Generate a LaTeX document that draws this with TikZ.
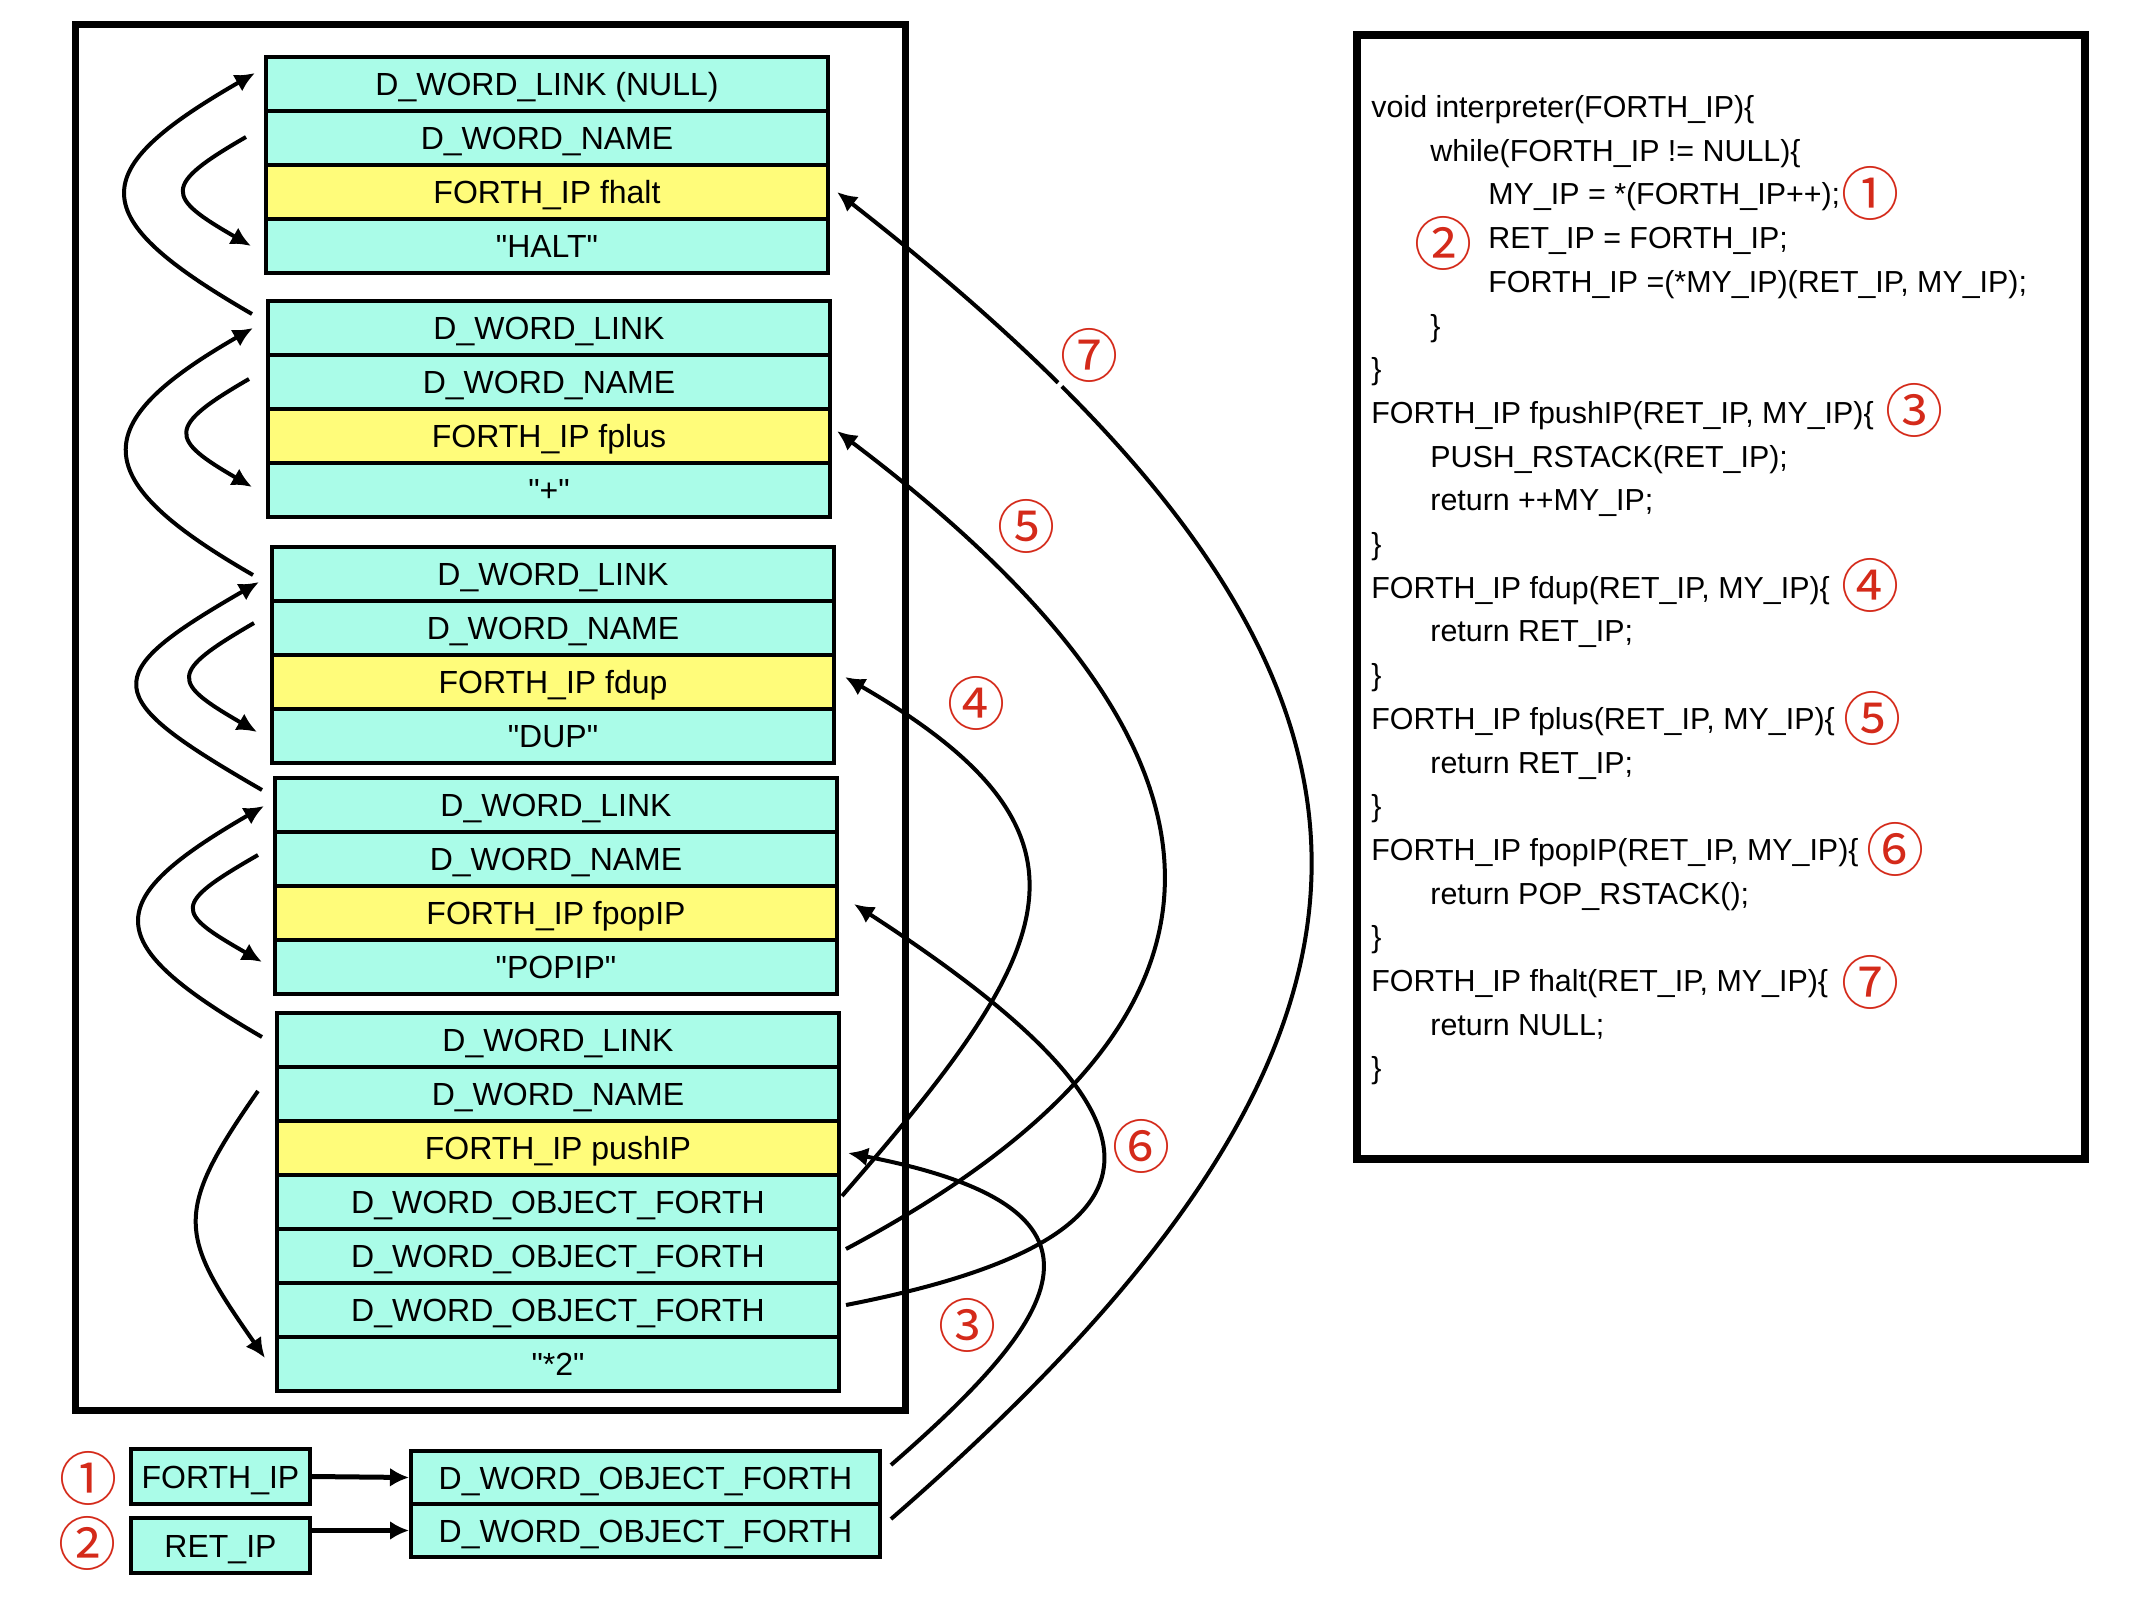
\documentclass[tikz,border=0pt]{standalone}
\usepackage{fontspec}
\setmainfont{Liberation Sans}
\newfontfamily\qfont{Liberation Sans}
\newfontfamily\cjkfont{Noto Sans CJK JP}
\usetikzlibrary{arrows.meta}
\definecolor{mint}{HTML}{AAFCE8}
\definecolor{yel}{HTML}{FFFC7A}
\definecolor{cred}{HTML}{D42A1A}
\newcommand{\dq}{{\qfont\symbol{34}}}
\begin{document}
\begin{tikzpicture}[x=0.5pt,y=-0.5pt,
  cell/.style={draw=black, line width=2pt, fill=mint, minimum width=281pt, minimum height=27pt, inner sep=0pt, text height=11.5pt, text depth=0pt, font=\fontsize{16}{19}\selectfont, anchor=north west},
  ycell/.style={cell, fill=yel},
  codeline/.style={anchor=west, inner sep=0pt, text height=11pt, text depth=0pt, font=\fontsize{15.2}{18}\selectfont},
  num/.style={text=cred, inner sep=0pt, font=\cjkfont\fontsize{29}{29}\selectfont},
  arr/.style={line width=2pt, -{Latex[length=10pt,width=9.5pt]}},
  barr/.style={line width=2.5pt, -{Latex[length=9.5pt,width=9.5pt]}}
]
\useasboundingbox (0,0) rectangle (2133,1600);
% frames
\draw[line width=3.5pt] (75,25) rectangle (905,1410);
\draw[line width=4pt] (1357,35) rectangle (2085,1159);
% word 1
\node[cell]  (b1a) at (264,55)  {D\_WORD\_LINK (NULL)};
\node[cell]  (b1b) at (264,109) {D\_WORD\_NAME};
\node[ycell] (b1c) at (264,163) {FORTH\_IP fhalt};
\node[cell]  (b1d) at (264,217) {\dq HALT\dq};
% word 2
\node[cell]  (b2a) at (266,299) {D\_WORD\_LINK};
\node[cell]  (b2b) at (266,353) {D\_WORD\_NAME};
\node[ycell] (b2c) at (266,407) {FORTH\_IP fplus};
\node[cell]  (b2d) at (266,461) {\dq+\dq};
% word 3
\node[cell]  (b3a) at (270,545) {D\_WORD\_LINK};
\node[cell]  (b3b) at (270,599) {D\_WORD\_NAME};
\node[ycell] (b3c) at (270,653) {FORTH\_IP fdup};
\node[cell]  (b3d) at (270,707) {\dq DUP\dq};
% word 4
\node[cell]  (b4a) at (273,776) {D\_WORD\_LINK};
\node[cell]  (b4b) at (273,830) {D\_WORD\_NAME};
\node[ycell] (b4c) at (273,884) {FORTH\_IP fpopIP};
\node[cell]  (b4d) at (273,938) {\dq POPIP\dq};
% word 5
\node[cell]  (b5a) at (275,1011) {D\_WORD\_LINK};
\node[cell]  (b5b) at (275,1065) {D\_WORD\_NAME};
\node[ycell] (b5c) at (275,1119) {FORTH\_IP pushIP};
\node[cell]  (b5d) at (275,1173) {D\_WORD\_OBJECT\_FORTH};
\node[cell]  (b5e) at (275,1227) {D\_WORD\_OBJECT\_FORTH};
\node[cell]  (b5f) at (275,1281) {D\_WORD\_OBJECT\_FORTH};
\node[cell]  (b5g) at (275,1335) {\dq*2\dq};
% bottom registers
\node[cell, minimum width=89.5pt, minimum height=27.5pt] (fip) at (129,1447) {FORTH\_IP};
\node[cell, minimum width=89.5pt, minimum height=27.5pt] (rip) at (129,1516) {RET\_IP};
\node[cell, minimum width=234.5pt, minimum height=26.5pt] (p1) at (409,1449) {D\_WORD\_OBJECT\_FORTH};
\node[cell, minimum width=234.5pt, minimum height=26.5pt] (p2) at (409,1502) {D\_WORD\_OBJECT\_FORTH};
\node[num] (n1l) at (88,1478) {①};
\node[num] (n2l) at (87,1543) {②};
\draw[barr] (fip.east) -- (p1.west);
\draw[barr] (rip.east |- p2.west) -- (p2.west);
% left link arrows
\coordinate (l1s) at (252,314); \coordinate (l1t) at (255,73);
\coordinate (l2s) at (253,575); \coordinate (l2t) at (253,328);
\coordinate (l3s) at (262,790); \coordinate (l3t) at (259,582);
\coordinate (l4s) at (262,1037); \coordinate (l4t) at (264,806);
\draw[arr] (l1s) .. controls (82,216) and (85,171) .. (l1t);
\draw[arr] (l2s) .. controls (86,479) and (86,424) .. (l2t);
\draw[arr] (l3s) .. controls (99,696) and (96,676) .. (l3t);
\draw[arr] (l4s) .. controls (98,942) and (100,901) .. (l4t);
% left name arrows
\coordinate (m1s) at (246,137); \coordinate (m1t) at (251,246);
\coordinate (m2s) at (249,379); \coordinate (m2t) at (252,487);
\coordinate (m3s) at (254,623); \coordinate (m3t) at (257,732);
\coordinate (m4s) at (258,855); \coordinate (m4t) at (262,962);
\coordinate (m5s) at (258,1091); \coordinate (m5t) at (265,1358);
\draw[arr] (m1s) .. controls (161,186) and (166,197) .. (m1t);
\draw[arr] (m2s) .. controls (166,427) and (169,439) .. (m2t);
\draw[arr] (m3s) .. controls (168,673) and (171,682) .. (m3t);
\draw[arr] (m4s) .. controls (171,905) and (175,912) .. (m4t);
\draw[arr] (m5s) .. controls (172,1214) and (179,1235) .. (m5t);
% right call arrows
\coordinate (r3s) at (891,1465); \coordinate (r3t) at (848,1153);
\coordinate (r4s) at (842,1196); \coordinate (r4t) at (845,677);
\coordinate (r5s) at (846,1249); \coordinate (r5t) at (837,431);
\coordinate (r6s) at (846,1305); \coordinate (r6t) at (854,904);
\coordinate (r7s) at (891,1519); \coordinate (r7t) at (837,192);
\draw[arr] (r3s) .. controls (1064.6,1314.1) and (1132.7,1208.3) .. (r3t);
\draw[arr] (r4s) .. controls (1052,954.5) and (1122,837) .. (r4t);
\draw[arr] (r5s) .. controls (1296,1009.6) and (1244,738) .. (r5t);
\draw[arr] (r6s) .. controls (1209,1234.4) and (1164.3,1105.5) .. (r6t);
\draw[arr] (r7s) .. controls (1472,1014) and (1444,666) .. (r7t);
\draw[white, line width=2.5pt] (1055,390) -- (1066,378);
\node[num] (c3) at (967,1325) {③};
\node[num] (c4) at (976,703) {④};
\node[num] (c5) at (1026,526) {⑤};
\node[num] (c6) at (1141,1146) {⑥};
\node[num] (c7) at (1089,355) {⑦};
% code
\node[codeline] (k0) at (1371,106.5) {void interpreter(FORTH\_IP)\{};
\node[codeline] (k1) at (1430,150.2) {while(FORTH\_IP != NULL)\{};
\node[codeline] (k2) at (1488,193.9) {MY\_IP = *(FORTH\_IP++);};
\node[codeline] (k3) at (1488,237.6) {RET\_IP = FORTH\_IP;};
\node[codeline] (k4) at (1488,281.3) {FORTH\_IP =(*MY\_IP)(RET\_IP, MY\_IP);};
\node[codeline] (k5) at (1430,325.0) {\}};
\node[codeline] (k6) at (1371,368.7) {\}};
\node[codeline] (k7) at (1371,412.4) {FORTH\_IP fpushIP(RET\_IP, MY\_IP)\{};
\node[codeline] (k8) at (1430,456.1) {PUSH\_RSTACK(RET\_IP);};
\node[codeline] (k9) at (1430,499.8) {return ++MY\_IP;};
\node[codeline] (k10) at (1371,543.5) {\}};
\node[codeline] (k11) at (1371,587.2) {FORTH\_IP fdup(RET\_IP, MY\_IP)\{};
\node[codeline] (k12) at (1430,630.9) {return RET\_IP;};
\node[codeline] (k13) at (1371,674.6) {\}};
\node[codeline] (k14) at (1371,718.3) {FORTH\_IP fplus(RET\_IP, MY\_IP)\{};
\node[codeline] (k15) at (1430,762.0) {return RET\_IP;};
\node[codeline] (k16) at (1371,805.7) {\}};
\node[codeline] (k17) at (1371,849.4) {FORTH\_IP fpopIP(RET\_IP, MY\_IP)\{};
\node[codeline] (k18) at (1430,893.1) {return POP\_RSTACK();};
\node[codeline] (k19) at (1371,936.8) {\}};
\node[codeline] (k20) at (1371,980.5) {FORTH\_IP fhalt(RET\_IP, MY\_IP)\{};
\node[codeline] (k21) at (1430,1024.2) {return NULL;};
\node[codeline] (k22) at (1371,1067.9) {\}};
\node[num] (q1) at (1870,193) {①};
\node[num] (q2) at (1443,243) {②};
\node[num] (q3) at (1914,410) {③};
\node[num] (q4) at (1870,585) {④};
\node[num] (q5) at (1872,718) {⑤};
\node[num] (q6) at (1895,849) {⑥};
\node[num] (q7) at (1870,982) {⑦};
\end{tikzpicture}
\end{document}
